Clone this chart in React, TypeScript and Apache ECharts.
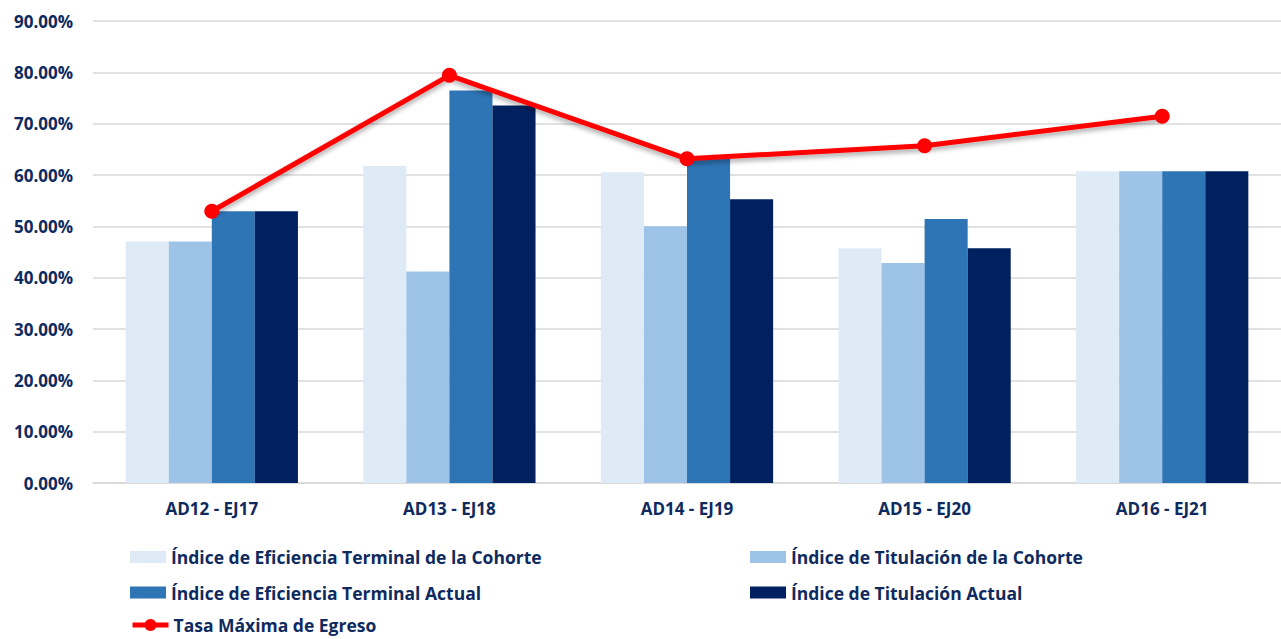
import React, { useEffect, useRef } from "react";
import * as echarts from "echarts";

const categories = ["AD12 - EJ17", "AD13 - EJ18", "AD14 - EJ19", "AD15 - EJ20", "AD16 - EJ21"];
const eficienciaCohorte = [47.06, 61.76, 60.53, 45.71, 60.71];
const titulacionCohorte = [47.06, 41.18, 50.0, 42.86, 60.71];
const eficienciaActual = [52.94, 76.47, 63.16, 51.43, 60.71];
const titulacionActual = [52.94, 73.53, 55.26, 45.71, 60.71];
const tasaMaxima = [52.94, 79.41, 63.16, 65.71, 71.43];

const names = [
  "Índice de Eficiencia Terminal de la Cohorte",
  "Índice de Titulación de la Cohorte",
  "Índice de Eficiencia Terminal Actual",
  "Índice de Titulación Actual",
  "Tasa Máxima de Egreso",
];
const colors = ["#DEEBF7", "#9DC3E6", "#2E75B6", "#002060", "#FF0000"];

const FONT = "'Open Sans', sans-serif";
const NAVY = "#0E2A5E";

export default function App() {
  const ref = useRef<HTMLDivElement>(null);
  useEffect(() => {
    if (!ref.current) return;
    const chart = echarts.init(ref.current, null, { renderer: "svg" });
    const barData = [eficienciaCohorte, titulacionCohorte, eficienciaActual, titulacionActual];
    const legendText = { color: NAVY, fontFamily: FONT, fontWeight: "bold" as const, fontSize: 17.5, lineHeight: 20 };
    const legendItem = (i: number) =>
      i === 4
        ? { name: names[i], itemStyle: { color: colors[4] }, lineStyle: { width: 5, color: colors[4] } }
        : { name: names[i], icon: "rect" };
    chart.setOption({
      animation: false,
      backgroundColor: "#ffffff",
      grid: { left: 93, right: -2, top: 21, bottom: 156, containLabel: false },
      xAxis: {
        type: "category",
        data: categories,
        axisLine: { show: true, lineStyle: { color: "#D9D9D9", width: 1.5 } },
        axisTick: { show: false },
        axisLabel: { color: NAVY, fontFamily: FONT, fontWeight: "bold", fontSize: 17, margin: 17 },
      },
      yAxis: {
        type: "value",
        min: 0,
        max: 90,
        interval: 10,
        axisLine: { show: false },
        axisTick: { show: false },
        splitLine: { lineStyle: { color: "#D9D9D9", width: 1.5 } },
        axisLabel: {
          color: NAVY,
          fontFamily: FONT,
          fontWeight: "bold",
          fontSize: 17,
          margin: 20,
          formatter: (v: number) => v.toFixed(2) + "%",
        },
      },
      legend: [
        {
          data: [legendItem(0), legendItem(2)],
          orient: "vertical",
          left: 130,
          top: 547,
          itemWidth: 36,
          itemHeight: 12,
          itemGap: 15.5,
          textStyle: legendText,
          padding: 0,
        },
        {
          data: [legendItem(1), legendItem(3)],
          orient: "vertical",
          left: 750,
          top: 547,
          itemWidth: 36,
          itemHeight: 12,
          itemGap: 15.5,
          textStyle: legendText,
          padding: 0,
        },
        {
          data: [legendItem(4)],
          orient: "vertical",
          left: 130,
          top: 616,
          itemWidth: 36,
          itemHeight: 15,
          textStyle: { ...legendText, lineHeight: 18 },
          padding: 0,
        },
      ],
      series: [
        ...barData.map((d, i) => ({
          name: names[i],
          type: "bar",
          data: d,
          barGap: "0%",
          barCategoryGap: "27.5%",
          itemStyle: { color: colors[i] },
        })),
        {
          name: names[4],
          type: "line",
          data: tasaMaxima,
          symbol: "circle",
          symbolSize: 15,
          z: 5,
          itemStyle: { color: colors[4] },
          lineStyle: {
            color: colors[4],
            width: 5,
            shadowColor: "rgba(0,0,0,0.35)",
            shadowBlur: 5,
            shadowOffsetY: 3,
          },
        },
      ],
    });
    return () => chart.dispose();
  }, []);
  return (
    <div
      ref={ref}
      style={{ position: "fixed", left: 0, top: 0, width: 1281, height: 639, background: "#fff" }}
    />
  );
}
